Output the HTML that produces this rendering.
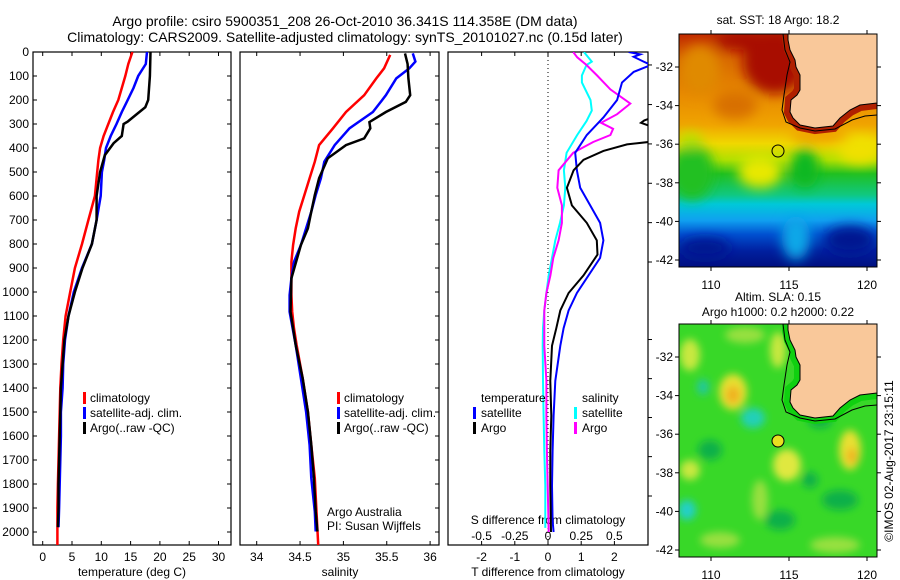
<!DOCTYPE html>
<html><head><meta charset="utf-8"><style>
html,body{margin:0;padding:0;background:#fff;}
svg{display:block;font-family:"Liberation Sans",sans-serif;}
text{fill:#000;}
</style></head><body>
<svg id="fig" width="900" height="580" viewBox="0 0 900 580">
<defs>
<filter id="blur6" x="-20%" y="-20%" width="140%" height="140%"><feGaussianBlur stdDeviation="6"/></filter>
<filter id="blur4" x="-20%" y="-20%" width="140%" height="140%"><feGaussianBlur stdDeviation="4"/></filter>
<clipPath id="c1"><rect x="33" y="52" width="198" height="493"/></clipPath>
<clipPath id="c2"><rect x="240" y="52" width="199" height="493"/></clipPath>
<clipPath id="c3"><rect x="448" y="52" width="200" height="493"/></clipPath>
<clipPath id="cm1"><rect x="679" y="34" width="198" height="233"/></clipPath>
<clipPath id="cm2"><rect x="679" y="324" width="198" height="233"/></clipPath>
<linearGradient id="sstg" x1="0" y1="0" x2="0" y2="1">
<stop offset="0" stop-color="#c02800"/><stop offset="0.11" stop-color="#d86800"/><stop offset="0.26" stop-color="#e88a00"/>
<stop offset="0.39" stop-color="#f0a400"/><stop offset="0.47" stop-color="#f0d800"/><stop offset="0.54" stop-color="#b0e000"/>
<stop offset="0.6" stop-color="#20c020"/><stop offset="0.69" stop-color="#10c880"/><stop offset="0.73" stop-color="#00c8d8"/>
<stop offset="0.8" stop-color="#10a0f0"/><stop offset="0.86" stop-color="#0050d0"/><stop offset="0.93" stop-color="#0020a0"/>
<stop offset="1" stop-color="#001080"/></linearGradient>
</defs>

<text x="345" y="26" font-size="14" text-anchor="middle">Argo profile: csiro 5900351_208 26-Oct-2010 36.341S 114.358E (DM data)</text>
<text x="345" y="42" font-size="14" text-anchor="middle">Climatology: CARS2009. Satellite-adjusted climatology: synTS_20101027.nc (0.15d later)</text>

<g id="p1"></g>
<g id="p2"></g>
<g id="p3"></g>

<!-- SST map -->
<g>
<text x="778" y="24" font-size="12" text-anchor="middle">sat. SST: 18 Argo: 18.2</text>
<g clip-path="url(#cm1)">
<rect x="679" y="34" width="198" height="233" fill="url(#sstg)"/>
<g filter="url(#blur6)">
<ellipse cx="775" cy="62" rx="32" ry="32" fill="#a80800"/>
<ellipse cx="745" cy="40" rx="30" ry="10" fill="#a80800"/>
<ellipse cx="700" cy="70" rx="20" ry="25" fill="#e08a00"/>
<ellipse cx="735" cy="105" rx="22" ry="14" fill="#d87000"/>
<ellipse cx="692" cy="172" rx="22" ry="28" fill="#20c020"/>
<ellipse cx="690" cy="140" rx="12" ry="8" fill="#b8e000"/>
<ellipse cx="760" cy="172" rx="22" ry="16" fill="#e8e800"/>
<ellipse cx="805" cy="168" rx="14" ry="20" fill="#10b820"/>
<ellipse cx="860" cy="150" rx="22" ry="14" fill="#f0e000"/>
<ellipse cx="796" cy="238" rx="14" ry="22" fill="#10a8e8"/>
<ellipse cx="705" cy="248" rx="25" ry="10" fill="#001890"/>
<ellipse cx="850" cy="240" rx="25" ry="14" fill="#001890"/>
<ellipse cx="820" cy="135" rx="30" ry="8" fill="#f0a000"/>
</g>
<path d="M788,34 L877,34 L877,103 L860,105 L850,110 L840,118 L833,126 L815,128 L800,125 L793,118 L790,112 L791,100 L797,95 L800,90 L800,75 L796,67 L795,60 L790,50 L788,40 Z" fill="none" stroke="#b02000" stroke-width="12"/>
<path d="M788,34 L877,34 L877,103 L860,105 L850,110 L840,118 L833,126 L815,128 L800,125 L793,118 L790,112 L791,100 L797,95 L800,90 L800,75 L796,67 L795,60 L790,50 L788,40 Z" fill="#f9c89a" stroke="#000" stroke-width="1"/>
<path d="M783,34 L785,50 L790,62 L787,75 L784,95 L782,110 L786,122 L800,128 L815,131 L835,129 L852,120 L865,116 L877,115" fill="none" stroke="#000" stroke-width="1"/>
<circle cx="778" cy="151" r="6" fill="none" stroke="#000" stroke-width="1"/>
</g>
<rect x="679" y="34" width="198" height="233" fill="none" stroke="#000"/>
<g id="m1ax"></g>
</g>

<!-- SLA map -->
<g>
<text x="778" y="301" font-size="12" text-anchor="middle">Altim. SLA: 0.15</text>
<text x="778" y="316" font-size="12" text-anchor="middle">Argo h1000: 0.2 h2000: 0.22</text>
<g clip-path="url(#cm2)">
<rect x="679" y="324" width="198" height="233" fill="#38d828"/>
<g filter="url(#blur4)">
<ellipse cx="733" cy="392" rx="14" ry="18" fill="#e8e030"/>
<ellipse cx="733" cy="395" rx="7" ry="9" fill="#f0b020"/>
<ellipse cx="753" cy="418" rx="12" ry="10" fill="#20d0b8"/>
<ellipse cx="703" cy="387" rx="6" ry="8" fill="#20c8a0"/>
<ellipse cx="687" cy="510" rx="9" ry="10" fill="#20d0c8"/>
<ellipse cx="850" cy="450" rx="11" ry="20" fill="#e8e030"/>
<ellipse cx="852" cy="456" rx="5" ry="8" fill="#f0b020"/>
<ellipse cx="787" cy="465" rx="14" ry="16" fill="#e0e840"/>
<ellipse cx="690" cy="355" rx="10" ry="16" fill="#c8e840"/>
<ellipse cx="778" cy="350" rx="8" ry="18" fill="#c8e840"/>
<ellipse cx="745" cy="335" rx="20" ry="8" fill="#98e040"/>
<ellipse cx="780" cy="520" rx="15" ry="10" fill="#10b048"/>
<ellipse cx="840" cy="500" rx="18" ry="10" fill="#10b048"/>
<ellipse cx="710" cy="450" rx="12" ry="10" fill="#10b048"/>
<ellipse cx="760" cy="500" rx="8" ry="20" fill="#98e040"/>
<ellipse cx="720" cy="540" rx="20" ry="8" fill="#98e040"/>
<ellipse cx="690" cy="470" rx="10" ry="10" fill="#c8e840"/>
<ellipse cx="820" cy="420" rx="12" ry="8" fill="#10b048"/>
<ellipse cx="835" cy="545" rx="25" ry="8" fill="#98e040"/>
<ellipse cx="810" cy="480" rx="8" ry="8" fill="#10b048"/>
</g>
<path d="M788,324 L877,324 L877,393 L860,395 L850,400 L840,408 L833,416 L815,418 L800,415 L793,408 L790,402 L791,390 L797,385 L800,380 L800,365 L796,357 L795,350 L790,340 L788,330 Z" fill="none" stroke="#10d010" stroke-width="12"/>
<path d="M788,324 L877,324 L877,393 L860,395 L850,400 L840,408 L833,416 L815,418 L800,415 L793,408 L790,402 L791,390 L797,385 L800,380 L800,365 L796,357 L795,350 L790,340 L788,330 Z" fill="#f9c89a" stroke="#000" stroke-width="1"/>
<path d="M783,324 L785,340 L790,352 L787,365 L784,385 L782,400 L786,412 L800,418 L815,421 L835,419 L852,410 L865,406 L877,405" fill="none" stroke="#000" stroke-width="1"/>
<circle cx="778" cy="441" r="6" fill="#e8e020" stroke="#000" stroke-width="1"/>
</g>
<rect x="679" y="324" width="198" height="233" fill="none" stroke="#000"/>
<g id="m2ax"></g>
</g>
<text transform="translate(893,461) rotate(-90)" font-size="12" text-anchor="middle">©IMOS 02-Aug-2017 23:15:11</text>

<script>
// ---- data ----
const depthTicks = [0,100,200,300,400,500,600,700,800,900,1000,1100,1200,1300,1400,1500,1600,1700,1800,1900,2000];
const tempTicks = [0,5,10,15,20,25,30];
const salTicks = [34,34.5,35,35.5,36];
const salTickLabels = ["34","34.5","35","35.5","36"];
const tdiffTicks = [-2,-1,0,1,2];
const sdiffTicks = [-0.5,-0.25,0,0.25,0.5];
const sdiffTickLabels = ["-0.5","-0.25","0","0.25","0.5"];

const climDepth = [0,50,100,150,200,250,300,350,400,450,500,600,700,800,900,1000,1100,1200,1300,1400,1500,1600,1700,1800,1900,2000,2060];
const climTemp = [15.3,14.6,14.1,13.5,12.9,12.0,11.2,10.4,9.8,9.5,9.3,8.9,7.8,6.7,5.5,4.7,3.9,3.5,3.2,3.0,2.9,2.8,2.7,2.6,2.5,2.5,2.5];
const satDepth = [0,50,100,150,200,250,300,350,400,450,500,600,700,800,900,1000,1100,1200,1300,1400,1500,1600,1700,1800,1900,1980];
const satTemp = [17.8,17.6,16.3,15.5,14.5,13.5,12.6,11.6,10.8,10.5,10.1,9.9,9.2,8.4,6.7,5.3,4.4,3.8,3.5,3.4,3.1,3.1,3.0,2.9,2.8,2.7];
const argoTDepth = [0,100,200,230,260,290,300,350,380,430,500,600,700,800,900,1000,1100,1200,1300,1400,1500,1600,1700,1800,1900,1980];
const argoTemp = [18.4,18.3,18.0,17.5,16.0,14.5,13.8,13.5,12.1,10.6,9.8,9.2,9.2,8.4,6.8,5.5,4.4,3.7,3.4,3.1,3.0,2.9,2.8,2.7,2.7,2.6];

const climSDepth = [12,68,110,180,250,318,388,457,526,596,665,735,804,874,943,1013,1082,1152,1221,1360,1499,1638,1776,1915,2060];
const climSal = [35.54,35.47,35.38,35.24,35.03,34.88,34.72,34.67,34.61,34.55,34.49,34.45,34.42,34.40,34.40,34.40,34.41,34.43,34.46,34.53,34.59,34.63,34.67,34.69,34.71];
const satSDepth = [6,40,68,110,180,250,318,388,457,526,596,665,735,804,874,943,1013,1082,1221,1360,1499,1638,1776,1915,1998];
const satSal = [35.80,35.83,35.76,35.61,35.49,35.34,35.07,34.90,34.78,34.74,34.68,34.63,34.57,34.51,34.43,34.40,34.38,34.38,34.45,34.51,34.57,34.61,34.63,34.67,34.68];
const argoSDepth = [6,50,110,180,208,250,292,318,360,388,443,526,596,665,735,804,943,1082,1221,1360,1499,1638,1776,1915,1998];
const argoSal = [35.71,35.74,35.75,35.77,35.72,35.49,35.30,35.31,35.24,35.03,34.82,34.72,34.67,34.63,34.59,34.51,34.40,34.39,34.45,34.53,34.59,34.63,34.66,34.68,34.70];

const satTdDepth = [0,10,20,40,54,83,127,200,273,346,420,493,566,639,712,785,858,931,1004,1077,1151,1224,1370,1516,1662,1808,1954,2000];
const satTdiff = [2.43,2.78,2.58,2.88,3.1,2.58,2.23,2.08,1.67,1.17,0.82,0.87,0.97,1.27,1.57,1.67,1.57,1.22,0.87,0.62,0.47,0.37,0.22,0.17,0.14,0.12,0.14,0.17];
const argoTdDepth = [0,150,270,285,295,310,350,375,385,412,449,493,566,639,712,785,844,931,1004,1077,1151,1224,1370,1516,1662,1808,2000];
const argoTdiff = [3.1,4.5,3.2,2.9,2.8,3.1,3.5,3.03,2.38,1.67,1.07,0.77,0.57,0.72,1.17,1.47,1.49,1.07,0.62,0.37,0.25,0.12,0.07,0.10,0.07,0.07,0.09];
const satSdDepth = [0,40,54,98,127,200,244,288,346,420,493,566,639,712,785,858,931,1004,1077,1151,1224,1370,1516,1662,1808,1983];
const satSdiff = [0.27,0.33,0.29,0.255,0.255,0.32,0.33,0.29,0.22,0.14,0.12,0.13,0.12,0.09,0.055,0.03,0.005,-0.012,-0.028,-0.038,-0.04,-0.038,-0.033,-0.028,-0.02,-0.02];
const argoSdDepth = [0,22,54,98,156,215,259,295,320,346,375,420,493,566,639,712,785,858,931,1004,1077,1224,1370,1516,1662,1808,2000];
const argoSdiff = [0.19,0.22,0.29,0.37,0.47,0.62,0.52,0.40,0.49,0.47,0.34,0.19,0.08,0.07,0.105,0.105,0.08,0.04,0.018,-0.012,-0.028,-0.028,-0.012,-0.012,-0.008,-0.002,0.005];

const lonTicks = [110,115,120];
const latTicks = [-32,-34,-36,-38,-40,-42];

// ---- helpers ----
const NS = "http://www.w3.org/2000/svg";
function mk(tag, attrs, parent){ const e=document.createElementNS(NS,tag); for(const k in attrs) e.setAttribute(k,attrs[k]); parent.appendChild(e); return e; }
const yD = d => 52 + d*0.24;
const xT = t => 42.7 + t*5.86;
const xS = s => 256.7 + (s-34)*86.7;
const xTd = t => 548 + t*33.2;
const xSd = s => 548 + s*132.8;
const PB = 545;

function frame(g, x0, x1, name){
  const r = mk('rect',{x:x0,y:52,width:x1-x0,height:PB-52,fill:'none',stroke:'#000','stroke-width':1.2},g);
  
  
}
function line(g, xs, ds, fx, color, w, clip, name){
  const pts = xs.map((v,i)=> fx(v).toFixed(1)+','+yD(ds[i]).toFixed(1)).join(' ');
  const p = mk('polyline',{points:pts,fill:'none',stroke:color,'stroke-width':w,'stroke-linejoin':'miter','clip-path':clip},g);
  
  
}
function text(g, x, y, s, anchor, size, name){
  const t = mk('text',{x:x,y:y,'font-size':size||12,'text-anchor':anchor||'middle'},g);
  t.textContent = s;
  
  
  return t;
}
function legendBar(g, x, y, color){
  mk('rect',{x:x,y:y-10,width:3,height:12,fill:color},g);
}

// ---- panel 1 ----
const g1 = document.getElementById('p1');
frame(g1, 33, 231, 'temperature-axes-frame');
depthTicks.forEach(d=>{
  mk('line',{x1:33,y1:yD(d),x2:37,y2:yD(d),stroke:'#000'},g1);
  mk('line',{x1:231,y1:yD(d),x2:227,y2:yD(d),stroke:'#000'},g1);
  text(g1, 29, yD(d)+4, String(d), 'end', 12, 'depth-tick-label');
});
tempTicks.forEach(t=>{
  mk('line',{x1:xT(t),y1:PB,x2:xT(t),y2:PB-4,stroke:'#000'},g1);
  mk('line',{x1:xT(t),y1:52,x2:xT(t),y2:56,stroke:'#000'},g1);
  text(g1, xT(t), 561, String(t), 'middle', 12, 'temperature-tick-label');
});
text(g1, 132, 576, 'temperature (deg C)', 'middle', 12, 'temperature-axis-title');
line(g1, climTemp, climDepth, xT, '#ff0000', 2.5, 'url(#c1)', 'climatology-temperature-line');
line(g1, satTemp, satDepth, xT, '#0000ff', 2.5, 'url(#c1)', 'satellite-temperature-line');
line(g1, argoTemp, argoTDepth, xT, '#000000', 2.5, 'url(#c1)', 'argo-temperature-line');
legendBar(g1, 83, 402, '#ff0000'); text(g1, 90, 402, 'climatology', 'start', 12, 'legend-climatology');
legendBar(g1, 83, 417, '#0000ff'); text(g1, 90, 417, 'satellite-adj. clim.', 'start', 12, 'legend-satellite');
legendBar(g1, 83, 432, '#000000'); text(g1, 90, 432, 'Argo(..raw -QC)', 'start', 12, 'legend-argo');

// ---- panel 2 ----
const g2 = document.getElementById('p2');
frame(g2, 240, 439, 'salinity-axes-frame');
salTicks.forEach((s,i)=>{
  mk('line',{x1:xS(s),y1:PB,x2:xS(s),y2:PB-4,stroke:'#000'},g2);
  mk('line',{x1:xS(s),y1:52,x2:xS(s),y2:56,stroke:'#000'},g2);
  text(g2, xS(s), 561, salTickLabels[i], 'middle', 12, 'salinity-tick-label');
});
depthTicks.forEach(d=>{
  mk('line',{x1:439,y1:yD(d),x2:435,y2:yD(d),stroke:'#000'},g2);
});
text(g2, 340, 576, 'salinity', 'middle', 12, 'salinity-axis-title');
line(g2, climSal, climSDepth, xS, '#ff0000', 2.5, 'url(#c2)', 'climatology-salinity-line');
line(g2, satSal, satSDepth, xS, '#0000ff', 2.5, 'url(#c2)', 'satellite-salinity-line');
line(g2, argoSal, argoSDepth, xS, '#000000', 2.5, 'url(#c2)', 'argo-salinity-line');
legendBar(g2, 337, 402, '#ff0000'); text(g2, 344, 402, 'climatology', 'start', 12, 'legend-climatology');
legendBar(g2, 337, 417, '#0000ff'); text(g2, 344, 417, 'satellite-adj. clim.', 'start', 12, 'legend-satellite');
legendBar(g2, 337, 432, '#000000'); text(g2, 344, 432, 'Argo(..raw -QC)', 'start', 12, 'legend-argo');
text(g2, 327, 516, 'Argo Australia', 'start', 12, 'credit-argo-australia');
text(g2, 327, 530, 'PI: Susan Wijffels', 'start', 12, 'credit-pi');

// ---- panel 3 ----
const g3 = document.getElementById('p3');
frame(g3, 448, 648, 'difference-axes-frame');
mk('line',{x1:548,y1:52,x2:548,y2:PB,stroke:'#000','stroke-dasharray':'1,3','stroke-width':1},g3);
tdiffTicks.forEach(t=>{
  mk('line',{x1:xTd(t),y1:PB,x2:xTd(t),y2:PB-4,stroke:'#000'},g3);
  mk('line',{x1:xTd(t),y1:52,x2:xTd(t),y2:56,stroke:'#000'},g3);
  text(g3, xTd(t), 561, String(t), 'middle', 12, 'tdiff-tick-label');
});
sdiffTicks.forEach((s,i)=>{
  text(g3, xSd(s), 540, sdiffTickLabels[i], 'middle', 12, 'sdiff-tick-label');
});
[54,219,383,547,711,875,1198,1361,1523,1686,1850].forEach(d=>{
  mk('line',{x1:648,y1:yD(d),x2:652,y2:yD(d),stroke:'#000'},g3);
});
text(g3, 548, 524, 'S difference from climatology', 'middle', 12, 'sdiff-axis-title');
text(g3, 548, 576, 'T difference from climatology', 'middle', 12, 'tdiff-axis-title');
line(g3, satSdiff, satSdDepth, xSd, '#00ffff', 2, 'url(#c3)', 'satellite-salinity-diff-line');
line(g3, argoSdiff, argoSdDepth, xSd, '#ff00ff', 2, 'url(#c3)', 'argo-salinity-diff-line');
line(g3, satTdiff, satTdDepth, xTd, '#0000ff', 2, 'url(#c3)', 'satellite-temperature-diff-line');
line(g3, argoTdiff, argoTdDepth, xTd, '#000000', 2, 'url(#c3)', 'argo-temperature-diff-line');
text(g3, 481, 402, 'temperature', 'start', 12, 'legend-temperature-header');
legendBar(g3, 473, 417, '#0000ff'); text(g3, 481, 417, 'satellite', 'start', 12, 'legend-t-satellite');
legendBar(g3, 473, 432, '#000000'); text(g3, 481, 432, 'Argo', 'start', 12, 'legend-t-argo');
text(g3, 582, 402, 'salinity', 'start', 12, 'legend-salinity-header');
legendBar(g3, 574, 417, '#00ffff'); text(g3, 582, 417, 'satellite', 'start', 12, 'legend-s-satellite');
legendBar(g3, 574, 432, '#ff00ff'); text(g3, 582, 432, 'Argo', 'start', 12, 'legend-s-argo');

// ---- map axes ----
function mapAxes(id, y0){
  const g = document.getElementById(id);
  const xL = lon => 711 + (lon-110)*15.6;
  const yL = lat => y0 + 33 + (-32-lat)*19.3;
  lonTicks.forEach(l=>{
    mk('line',{x1:xL(l),y1:y0,x2:xL(l),y2:y0-4,stroke:'#000'},g);
    mk('line',{x1:xL(l),y1:y0+233,x2:xL(l),y2:y0+237,stroke:'#000'},g);
    text(g, xL(l), y0+255, String(l), 'middle', 12, 'longitude-tick-label');
  });
  latTicks.forEach(l=>{
    mk('line',{x1:679,y1:yL(l),x2:675,y2:yL(l),stroke:'#000'},g);
    mk('line',{x1:877,y1:yL(l),x2:881,y2:yL(l),stroke:'#000'},g);
    text(g, 673, yL(l)+4, String(l), 'end', 12, 'latitude-tick-label');
  });
}
mapAxes('m1ax', 34);
mapAxes('m2ax', 324);
</script>
</svg>
</body></html>
